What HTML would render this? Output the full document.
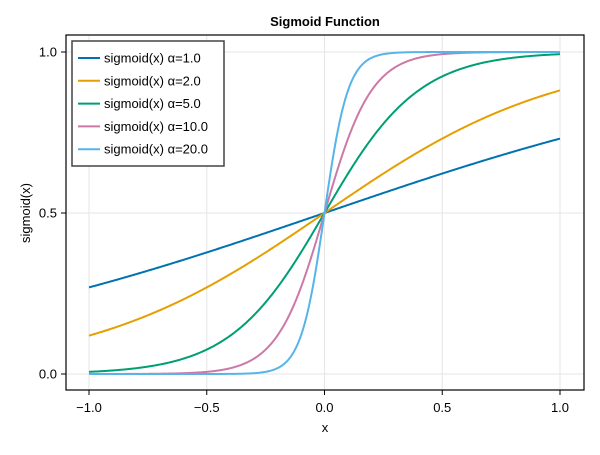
<!DOCTYPE html>
<html><head><meta charset="utf-8"><style>
body{margin:0;background:#fff}
svg text{font-family:"Liberation Sans",sans-serif}
</style></head><body>
<svg id="c" width="600" height="450" xmlns="http://www.w3.org/2000/svg">
<rect width="600" height="450" fill="#fff"/>
<g id="grid"></g>
<g id="series"></g>
<rect x="66" y="35" width="518" height="355" fill="none" stroke="#000" stroke-width="1.2"/>
<g id="ticks"></g>
<text x="325" y="26" text-anchor="middle" font-size="13" font-weight="bold">Sigmoid Function</text>
<text x="325" y="432" text-anchor="middle" font-size="13">x</text>
<text x="0" y="0" transform="translate(30,213) rotate(-90)" text-anchor="middle" font-size="13">sigmoid(x)</text>
<g id="legend"></g>
</svg>
<script>
const alphas=[1,2,5,10,20];
const labels=["sigmoid(x) α=1.0","sigmoid(x) α=2.0","sigmoid(x) α=5.0","sigmoid(x) α=10.0","sigmoid(x) α=20.0"];
const colors=["#0072b2","#e69f00","#009e73","#cc79a7","#56b4e9"];
const xTicks=[-1,-0.5,0,0.5,1];
const xTickLabels=["−1.0","−0.5","0.0","0.5","1.0"];
const yTicks=[0,0.5,1];
const yTickLabels=["0.0","0.5","1.0"];
const NS="http://www.w3.org/2000/svg";
const X=v=>324.5+v*235.5, Y=v=>374-v*322;
function mk(t,a,p){const e=document.createElementNS(NS,t);for(const k in a)e.setAttribute(k,a[k]);p.appendChild(e);return e;}
const grid=document.getElementById('grid'),ticks=document.getElementById('ticks');
xTicks.forEach((v,i)=>{
 const g=mk('line',{x1:X(v),x2:X(v),y1:35,y2:390,stroke:'#e6e6e6','stroke-width':1},grid);
 
 
 const t=mk('line',{x1:X(v),x2:X(v),y1:390,y2:395,stroke:'#000'},ticks);
 
 
 const l=mk('text',{x:X(v),y:412,'text-anchor':'middle','font-size':13},ticks);l.textContent=xTickLabels[i];
 
 
});
yTicks.forEach((v,i)=>{
 const g=mk('line',{x1:66,x2:584,y1:Y(v),y2:Y(v),stroke:'#e6e6e6','stroke-width':1},grid);
 
 
 const t=mk('line',{x1:61,x2:66,y1:Y(v),y2:Y(v),stroke:'#000'},ticks);
 
 
 const l=mk('text',{x:57,y:Y(v)+4.5,'text-anchor':'end','font-size':13},ticks);l.textContent=yTickLabels[i];
 
 
});
const series=document.getElementById('series'),legend=document.getElementById('legend');
alphas.forEach((a,i)=>{
 let d='';for(let k=0;k<=400;k++){const x=-1+k/200;const y=1/(1+Math.exp(-a*x));d+=(k?'L':'M')+X(x).toFixed(2)+','+Y(y).toFixed(2);}
 const p=mk('path',{d:d,fill:'none',stroke:colors[i],'stroke-width':2},series);
 
 
});
const box=mk('rect',{x:72,y:41,width:152,height:125,fill:'#fff',stroke:'#444','stroke-width':1.5},legend);


labels.forEach((s,i)=>{
 const y=58+i*22.8;
 const l=mk('line',{x1:78,x2:100,y1:y,y2:y,stroke:colors[i],'stroke-width':2},legend);
 
 
 const t=mk('text',{x:104,y:y+4.5,'font-size':13},legend);t.textContent=s;
 
 
});
</script>
</body></html>
